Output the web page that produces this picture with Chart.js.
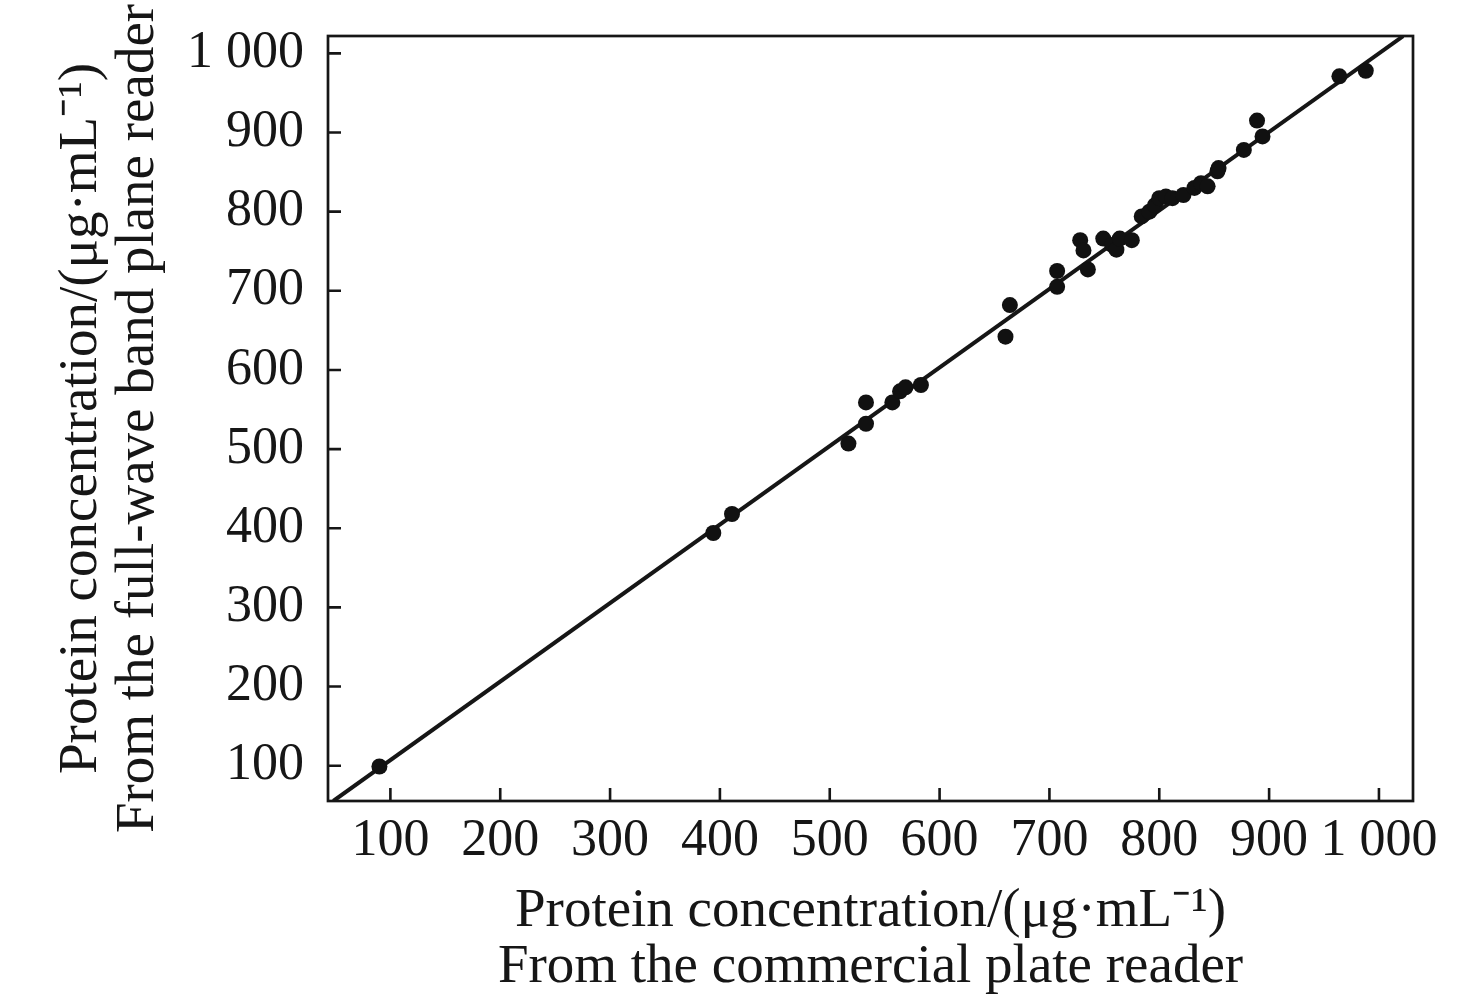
<!DOCTYPE html>
<html>
<head>
<meta charset="utf-8">
<title>Protein concentration comparison</title>
<script src="https://cdn.jsdelivr.net/npm/chart.js@4/dist/chart.umd.min.js"></script>
<style>
  html, body { margin: 0; padding: 0; background: #fff; }
  #wrap { width: 1476px; height: 1001px; position: relative; }
</style>
</head>
<body>
<div id="wrap"><canvas id="chart"></canvas></div>
<script>
// Plate reader comparison — commercial reader (x) vs full-wave band plane reader (y).
const FONT = "'Liberation Serif', 'Times New Roman', serif";
const INK = '#161616';

const tickValues = [100, 200, 300, 400, 500, 600, 700, 800, 900, 1000];

// measured samples, µg/mL
const commercial = [90, 394, 411, 517, 533, 533, 557, 564, 569, 583, 660, 664,
  707, 707, 728, 731, 735, 749, 757, 761, 764, 775, 784, 791, 796, 800, 806, 812,
  822, 832, 838, 844, 853, 854, 877, 889, 894, 964, 988];
const fullWave = [99, 394, 418, 507, 532, 559, 559, 573, 578, 581, 642, 682,
  705, 725, 764, 751, 727, 766, 758, 752, 766, 764, 794, 800, 808, 817, 819, 817,
  821, 830, 836, 832, 851, 855, 878, 915, 895, 971, 978];

// fitted line end points
const fitX = [48, 1022];
const fitY = [55.4, 1021.7];

function fmtTick(v) { return v >= 1000 ? '1 000' : String(v); }

// frame + inward tick marks
const framePlugin = {
  id: 'frame',
  afterDraw(chart) {
    const { ctx, chartArea: a, scales: { x, y } } = chart;
    ctx.save();
    ctx.strokeStyle = INK;
    ctx.lineWidth = 2.7;
    ctx.strokeRect(a.left, a.top, a.right - a.left, a.bottom - a.top);
    ctx.lineWidth = 2.6;
    ctx.beginPath();
    tickValues.forEach(v => {
      const px = x.getPixelForValue(v);
      ctx.moveTo(px, a.bottom);
      ctx.lineTo(px, a.bottom - 13);
      const py = y.getPixelForValue(v);
      ctx.moveTo(a.left, py);
      ctx.lineTo(a.left + 13, py);
    });
    ctx.stroke();
    ctx.restore();
  }
};

const tickOpts = {
  color: INK,
  font: { family: FONT, size: 52 },
  callback: v => fmtTick(v)
};
const titleFont = { family: FONT, size: 55, lineHeight: 1.02 };

new Chart(document.getElementById('chart'), {
  type: 'scatter',
  data: {
    datasets: [
      {
        label: 'Fit',
        data: fitX.map((v, i) => ({ x: v, y: fitY[i] })),
        showLine: true,
        borderColor: INK,
        borderWidth: 4,
        pointRadius: 0,
        order: 2
      },
      {
        label: 'Samples',
        data: commercial.map((v, i) => ({ x: v, y: fullWave[i] })),
        backgroundColor: '#111',
        borderColor: '#111',
        pointRadius: 8,
        borderWidth: 0,
        order: 1
      }
    ]
  },
  options: {
    responsive: true,
    maintainAspectRatio: false,
    animation: false,
    layout: { padding: { left: 0, top: 36, right: 63, bottom: 0 } },
    plugins: { legend: { display: false }, tooltip: { enabled: false } },
    scales: {
      x: {
        type: 'linear',
        min: 43.2, max: 1031,
        afterBuildTicks: s => { s.ticks = tickValues.map(v => ({ value: v })); },
        afterFit: s => { s.height = 200; s.paddingLeft = 0; s.paddingRight = 0; },
        grid: { display: false, drawTicks: false },
        border: { display: false },
        ticks: { ...tickOpts, padding: 9, maxRotation: 0, autoSkip: false },
        title: {
          display: true,
          text: ['Protein concentration/(μg·mL⁻¹)', 'From the commercial plate reader'],
          color: INK,
          font: titleFont,
          padding: { top: 0, bottom: 5 }
        }
      },
      y: {
        type: 'linear',
        min: 55.4, max: 1021.9,
        afterBuildTicks: s => { s.ticks = tickValues.map(v => ({ value: v })); },
        afterFit: s => { s.width = 328; s.paddingTop = 0; s.paddingBottom = 0; },
        grid: { display: false, drawTicks: false },
        border: { display: false },
        ticks: { ...tickOpts, padding: 24, autoSkip: false },
        title: {
          display: true,
          text: ['Protein concentration/(μg·mL⁻¹)', 'From the full-wave band plane reader'],
          color: INK,
          font: titleFont,
          padding: { top: 54, bottom: 0 }
        }
      }
    }
  },
  plugins: [framePlugin]
});
</script>
</body>
</html>
